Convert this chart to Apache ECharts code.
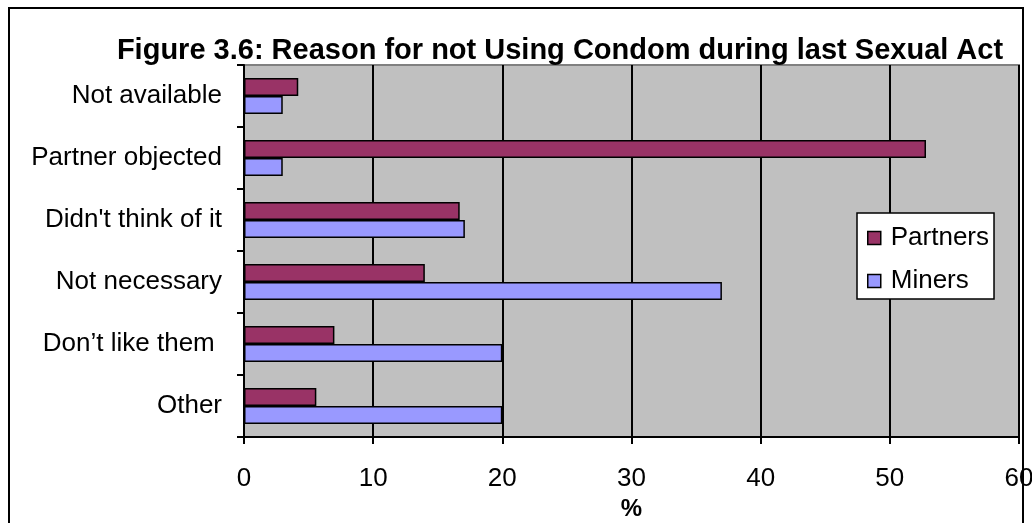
<!DOCTYPE html>
<html>
<head>
<meta charset="utf-8">
<script src="https://cdn.jsdelivr.net/npm/echarts@6/dist/echarts.min.js"></script>
<style>
  html, body { margin: 0; padding: 0; background: #ffffff; }
  #chart { width: 1032px; height: 523px; }
</style>
</head>
<body>
<div id="chart"></div>
<script>
// Reasons, listed top to bottom
const reasons = ['Not available', 'Partner objected', "Didn't think of it", 'Not necessary', 'Don\u2019t like them ', 'Other'];
// Percentages per group
const partners = [4.2, 52.8, 16.7, 14.0, 7.0, 5.6];
const miners = [3.0, 3.0, 17.1, 37.0, 20.0, 20.0];
const xTicks = [0, 10, 20, 30, 40, 50, 60];

const FONT = "'Liberation Sans', Arial, sans-serif";
const chart = echarts.init(document.getElementById('chart'), null, { renderer: 'canvas' });

chart.setOption({
  animation: false,
  backgroundColor: '#ffffff',
  textStyle: { fontFamily: FONT },
  title: {
    text: 'Figure 3.6: Reason for not Using Condom during last Sexual Act',
    left: 555,
    textAlign: 'center',
    top: 31,
    textStyle: { fontFamily: FONT, fontWeight: 'bold', fontSize: 29, color: '#000' }
  },
  graphic: [{
    type: 'rect',
    shape: { x: 9, y: 8, width: 1014, height: 530 },
    style: { fill: 'none', stroke: '#000', lineWidth: 2 },
    silent: true
  }],
  grid: {
    left: 244, right: 13, top: 65, bottom: 86,
    outerBoundsMode: 'none',
    show: true, backgroundColor: '#C0C0C0',
    borderColor: '#808080', borderWidth: 2
  },
  legend: {
    orient: 'vertical',
    left: 857, top: 213,
    backgroundColor: '#ffffff',
    borderColor: '#000', borderWidth: 1.5,
    padding: [12, 5, 5, 10],
    itemGap: 17,
    itemWidth: 13, itemHeight: 13,
    icon: 'rect',
    data: ['Partners', 'Miners'],
    textStyle: { fontFamily: FONT, fontSize: 26, color: '#000', padding: [0, 0, 0, 5] },
    itemStyle: { borderColor: '#000', borderWidth: 1.5 }
  },
  xAxis: {
    type: 'value',
    min: xTicks[0], max: xTicks[xTicks.length - 1], interval: 10,
    name: '%',
    nameLocation: 'middle',
    nameGap: 54,
    nameTextStyle: { fontFamily: FONT, fontWeight: 'bold', fontSize: 24, color: '#000' },
    axisLine: { show: true, lineStyle: { color: '#000', width: 2 } },
    axisTick: { show: true, length: 7, lineStyle: { color: '#000', width: 2 } },
    axisLabel: { margin: 29, fontFamily: FONT, fontSize: 26, color: '#000' },
    splitLine: { show: true, lineStyle: { color: '#000', width: 2 } }
  },
  yAxis: {
    type: 'category',
    data: reasons,
    inverse: true,
    axisLine: { show: true, lineStyle: { color: '#000', width: 2 } },
    axisTick: { show: true, length: 7, lineStyle: { color: '#000', width: 2 } },
    axisLabel: { margin: 22, fontFamily: FONT, fontSize: 26, color: '#000' },
    splitLine: { show: false }
  },
  series: [
    {
      name: 'Partners', type: 'bar', data: partners,
      barWidth: 18, barGap: '0%',
      itemStyle: { color: '#993366', borderColor: '#000', borderWidth: 1.5 }
    },
    {
      name: 'Miners', type: 'bar', data: miners,
      barWidth: 18, barGap: '0%',
      itemStyle: { color: '#9999FF', borderColor: '#000', borderWidth: 1.5 }
    }
  ]
});
</script>
</body>
</html>
